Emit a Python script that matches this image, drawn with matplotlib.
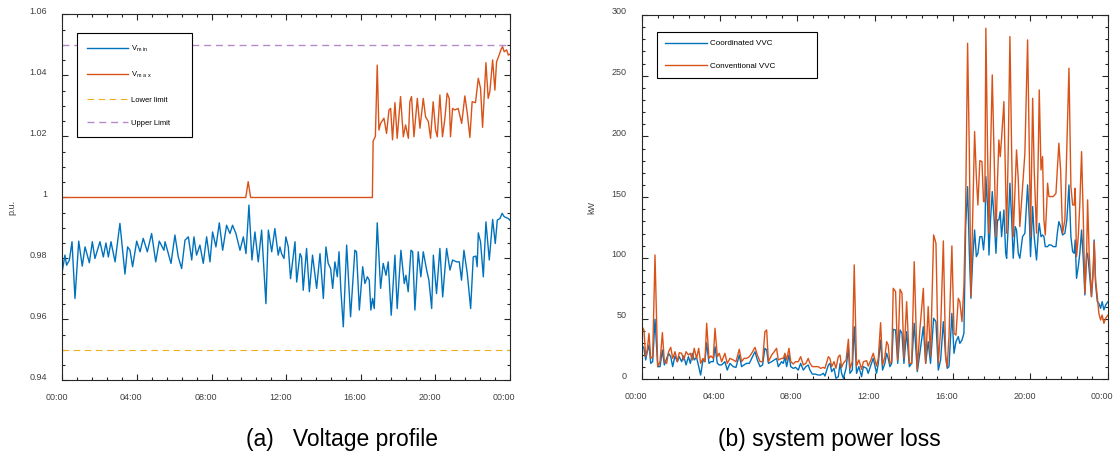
import matplotlib.pyplot as plt
from matplotlib.ticker import MultipleLocator
from matplotlib.transforms import ScaledTranslation

plt.rcParams['font.family'] = ['Liberation Sans', 'DejaVu Sans']

# time axis (hours of the day)
hour_ticks = [0, 4, 8, 12, 16, 20, 24]
hour_labels = ['00:00', '04:00', '08:00', '12:00', '16:00', '20:00', '00:00']

volt_ticks = [0.94, 0.96, 0.98, 1.0, 1.02, 1.04, 1.06]
volt_labels = ['0.94', '0.96', '0.98', '1', '1.02', '1.04', '1.06']
lower_limit = 0.95
upper_limit = 1.05

# (a) voltage profile
t_vmin = [0.0, 0.13, 0.22, 0.37, 0.51, 0.67, 0.87, 1.06, 1.21, 1.44,
          1.60, 1.74, 2.01, 2.19, 2.33, 2.46, 2.60, 2.82, 3.08, 3.35,
          3.49, 3.62, 3.76, 3.98, 4.16, 4.33, 4.55, 4.78, 5.00, 5.19,
          5.44, 5.50, 5.82, 6.03, 6.21, 6.39, 6.57, 6.75, 6.93, 7.05,
          7.19, 7.37, 7.55, 7.73, 7.91, 8.05, 8.23, 8.41, 8.59, 8.80,
          8.98, 9.12, 9.30, 9.52, 9.70, 9.84, 10.00, 10.16, 10.32, 10.50,
          10.68, 10.91, 11.04, 11.22, 11.39, 11.57, 11.66, 11.75, 11.88, 11.98,
          12.11, 12.23, 12.47, 12.56, 12.74, 12.82, 12.91, 13.09, 13.24, 13.41,
          13.63, 13.81, 13.99, 14.13, 14.25, 14.38, 14.49, 14.61, 14.74, 14.83,
          14.93, 15.06, 15.24, 15.45, 15.68, 15.77, 15.92, 16.10, 16.22, 16.35,
          16.45, 16.54, 16.63, 16.72, 16.88, 17.06, 17.20, 17.35, 17.47, 17.63,
          17.83, 17.95, 18.15, 18.33, 18.42, 18.54, 18.69, 18.78, 18.90, 19.08,
          19.22, 19.35, 19.53, 19.65, 19.80, 19.89, 20.06, 20.24, 20.39, 20.60,
          20.78, 20.92, 21.14, 21.28, 21.40, 21.53, 21.71, 21.89, 22.03, 22.17,
          22.24, 22.30, 22.42, 22.57, 22.71, 22.89, 23.07, 23.21, 23.32, 23.46,
          23.58, 23.69, 23.91, 24.0]
vmin = [0.9762, 0.9811, 0.9778, 0.9795, 0.9855, 0.9669, 0.9857, 0.9775, 0.9838, 0.9786,
        0.9855, 0.9800, 0.9855, 0.9805, 0.9851, 0.9805, 0.9855, 0.9789, 0.9915, 0.9749,
        0.9838, 0.9827, 0.9773, 0.9857, 0.9822, 0.9866, 0.9822, 0.9882, 0.9789, 0.9857,
        0.9827, 0.9855, 0.9784, 0.9877, 0.9805, 0.9767, 0.9860, 0.9871, 0.9795, 0.9871,
        0.9811, 0.9844, 0.9784, 0.9871, 0.9789, 0.9887, 0.9838, 0.9917, 0.9827, 0.9909,
        0.9882, 0.9909, 0.9882, 0.9827, 0.9871, 0.9816, 0.9975, 0.9795, 0.9887, 0.9789,
        0.9893, 0.9652, 0.9893, 0.9822, 0.9898, 0.9811, 0.9838, 0.9816, 0.9800, 0.9871,
        0.9838, 0.9734, 0.9855, 0.9723, 0.9816, 0.9805, 0.9696, 0.9833, 0.9691, 0.9811,
        0.9702, 0.9816, 0.9669, 0.9838, 0.9784, 0.9767, 0.9702, 0.9789, 0.9740, 0.9822,
        0.9696, 0.9576, 0.9844, 0.9609, 0.9827, 0.9822, 0.9631, 0.9773, 0.9718, 0.9740,
        0.9729, 0.9631, 0.9669, 0.9636, 0.9917, 0.9702, 0.9784, 0.9745, 0.9789, 0.9614,
        0.9811, 0.9636, 0.9827, 0.9718, 0.9745, 0.9691, 0.9827, 0.9822, 0.9631, 0.9822,
        0.9740, 0.9822, 0.9762, 0.9729, 0.9636, 0.9811, 0.9685, 0.9833, 0.9674, 0.9833,
        0.9762, 0.9795, 0.9789, 0.9789, 0.9729, 0.9827, 0.9751, 0.9636, 0.9805, 0.9808,
        0.9773, 0.9884, 0.9855, 0.9740, 0.9920, 0.9795, 0.9928, 0.9849, 0.9926, 0.9931,
        0.9948, 0.9937, 0.9931, 0.9925]

t_vmax = [0.0, 9.83, 9.96, 10.09, 16.62, 16.66, 16.78, 16.88, 16.97, 17.06,
          17.24, 17.38, 17.51, 17.60, 17.70, 17.83, 17.95, 18.13, 18.28, 18.40,
          18.55, 18.63, 18.72, 18.85, 19.03, 19.17, 19.35, 19.47, 19.62, 19.74,
          19.88, 20.01, 20.10, 20.24, 20.38, 20.51, 20.63, 20.74, 20.81, 20.92,
          21.04, 21.22, 21.41, 21.58, 21.71, 21.85, 21.97, 22.15, 22.30, 22.42,
          22.53, 22.71, 22.83, 22.92, 23.07, 23.19, 23.28, 23.42, 23.51, 23.60,
          23.69, 23.82, 23.91, 24.0]
vmax = [1.0, 1.0, 1.0052, 1.0, 1.0, 1.0185, 1.0200, 1.0434, 1.0221, 1.0243,
        1.0260, 1.0210, 1.0287, 1.0292, 1.0189, 1.0311, 1.0194, 1.0331, 1.0199, 1.0238,
        1.0194, 1.0314, 1.0331, 1.0199, 1.0325, 1.0227, 1.0325, 1.0265, 1.0249, 1.0194,
        1.0314, 1.0221, 1.0199, 1.0336, 1.0199, 1.0260, 1.0342, 1.0325, 1.0199, 1.0292,
        1.0287, 1.0292, 1.0243, 1.0333, 1.0276, 1.0197, 1.0314, 1.0311, 1.0391, 1.0358,
        1.0230, 1.0442, 1.0325, 1.0347, 1.0451, 1.0352, 1.0445, 1.0467, 1.0484, 1.0495,
        1.0478, 1.0484, 1.0467, 1.0470]

# (b) system power loss, kW
t_loss = [0.00, 0.10, 0.19, 0.27, 0.36, 0.45, 0.55, 0.67, 0.81, 0.93,
          1.05, 1.15, 1.27, 1.37, 1.48, 1.58, 1.70, 1.82, 1.92, 2.04,
          2.15, 2.27, 2.39, 2.49, 2.59, 2.69, 2.81, 2.92, 3.02, 3.14,
          3.24, 3.33, 3.45, 3.55, 3.67, 3.76, 3.88, 3.98, 4.10, 4.27,
          4.39, 4.53, 4.70, 4.84, 5.01, 5.13, 5.25, 5.39, 5.53, 5.65,
          5.82, 5.94, 6.08, 6.21, 6.33, 6.42, 6.51, 6.68, 6.81, 6.93,
          7.02, 7.19, 7.28, 7.36, 7.45, 7.57, 7.66, 7.79, 7.91, 8.05,
          8.17, 8.31, 8.44, 8.56, 8.65, 8.77, 8.91, 9.08, 9.20, 9.34,
          9.42, 9.60, 9.68, 9.77, 9.89, 9.99, 10.11, 10.20, 10.28, 10.37,
          10.51, 10.63, 10.71, 10.83, 10.93, 11.05, 11.17, 11.31, 11.40, 11.57,
          11.65, 11.79, 11.91, 12.08, 12.17, 12.29, 12.39, 12.51, 12.60, 12.68,
          12.77, 12.86, 12.94, 13.06, 13.17, 13.29, 13.39, 13.49, 13.63, 13.77,
          13.89, 14.02, 14.18, 14.31, 14.49, 14.61, 14.74, 14.86, 15.02, 15.14,
          15.26, 15.38, 15.52,
          15.64, 15.72, 15.81, 15.96, 16.07, 16.17, 16.29, 16.37, 16.48, 16.58,
          16.67, 16.77, 16.86, 16.94, 17.03, 17.13, 17.22, 17.30, 17.40, 17.51,
          17.59, 17.66, 17.71, 17.80, 17.87, 17.95, 18.04, 18.14, 18.23, 18.31,
          18.38, 18.45, 18.52, 18.64, 18.73, 18.78, 18.86, 18.95, 19.04, 19.12,
          19.22, 19.29, 19.38, 19.46, 19.60, 19.72, 19.86, 19.95, 20.01, 20.12,
          20.20, 20.32, 20.41, 20.46, 20.55, 20.63, 20.70, 20.77, 20.84, 20.89,
          20.96, 21.06, 21.18, 21.32, 21.39, 21.47, 21.56, 21.66, 21.78, 21.88,
          21.99, 22.09, 22.18, 22.26, 22.31, 22.38, 22.47, 22.55, 22.64, 22.73,
          22.81, 22.90, 22.95, 23.03, 23.15, 23.24, 23.29, 23.36, 23.45, 23.53,
          23.62, 23.70, 23.79, 23.88, 24.0]
loss_coordinated = [28.3, 25.6, 16.0, 22.8, 28.3, 13.2, 14.6, 49.5, 10.5, 10.5,
                    24.2, 11.9, 17.3, 21.5, 18.7, 10.5, 19.3, 14.6, 18.7, 14.6,
                    19.3, 11.9, 18.7, 13.2, 21.5, 16.0, 18.2, 10.5, 3.6, 16.0,
                    14.6, 30.2, 13.2, 14.6, 14.6, 26.9, 13.2, 11.9, 11.9, 14.6,
                    7.7, 13.2, 10.5, 9.9, 20.1, 10.5, 11.9, 13.2, 13.2, 17.3,
                    22.8, 16.0, 10.5, 11.9, 25.6, 24.2, 13.2, 14.6, 16.0, 17.3,
                    10.5, 14.6, 13.2, 18.7, 10.5, 20.1, 10.5, 9.1, 9.9, 7.7,
                    13.2, 7.7, 10.5, 11.9, 7.7, 4.4, 4.4, 3.6, 3.6, 5.0,
                    2.8, 11.9, 13.2, 6.4, 9.1, 0.9, 2.2, 13.2, 5.0, 0.9,
                    9.1, 25.6, 5.0, 7.7, 43.4, 5.0, 10.5, 2.2, 10.5, 9.1,
                    5.0, 11.9, 17.3, 5.0, 13.2, 32.5, 7.7, 13.2, 21.5, 17.3,
                    10.5, 13.2, 41.2, 40.7, 13.2, 40.7, 37.9, 13.2, 39.3, 10.5,
                    13.2, 46.2, 6.4, 21.5, 43.4, 13.2, 31.1, 13.2, 50.3, 47.5,
                    7.7, 16.0, 47.5,
                    18.7, 9.1, 10.5, 54.4, 21.5, 31.1, 35.2, 29.7, 32.4, 37.9,
                    125.8, 158.7, 103.8, 66.8, 98.3, 123.0, 101.1, 103.8, 117.5, 117.5,
                    106.6, 120.3, 166.9, 142.3, 102.4, 131.3, 154.6, 131.3, 103.8, 131.3,
                    131.3, 138.1, 117.5, 139.5, 103.8, 99.7, 125.8, 161.5, 131.3, 99.7,
                    125.8, 123.0, 103.8, 99.7, 117.5, 120.3, 160.1, 131.3, 101.1, 142.3,
                    117.5, 98.3, 120.3, 128.5, 117.5, 118.9, 117.5, 109.3, 109.3, 109.3,
                    110.7, 110.7, 109.3, 109.3, 120.3, 129.9, 125.8, 118.9, 120.3, 131.3,
                    160.1, 117.5, 105.2, 103.8, 114.8, 83.2, 92.8, 103.8, 123.0, 98.3,
                    69.5, 103.8, 103.8, 90.1, 68.1, 90.1, 114.8, 79.1, 64.0, 62.6,
                    58.5, 64.0, 57.2, 61.3, 64.0]
loss_conventional = [43.4, 40.7, 18.7, 24.2, 37.9, 17.3, 18.7, 102.4, 10.5, 14.6,
                     38.5, 14.6, 13.2, 22.8, 26.4, 17.3, 22.8, 14.6, 22.0, 21.5,
                     16.0, 22.8, 20.1, 21.5, 16.0, 25.6, 17.3, 25.6, 13.2, 17.3,
                     14.6, 46.2, 17.3, 19.3, 17.3, 42.1, 18.7, 21.5, 14.6, 21.5,
                     13.2, 17.3, 16.0, 14.6, 24.8, 14.6, 17.3, 17.3, 18.7, 21.5,
                     26.4, 20.1, 14.6, 14.6, 39.3, 40.7, 14.6, 20.1, 22.8, 25.6,
                     16.0, 17.3, 17.3, 21.5, 16.0, 25.6, 14.6, 12.7, 14.6, 14.6,
                     18.7, 11.9, 13.2, 17.3, 13.2, 10.5, 10.5, 10.5, 9.1, 9.9,
                     9.1, 18.7, 17.3, 10.5, 14.6, 9.1, 18.7, 20.1, 9.9, 13.2,
                     16.0, 33.0, 9.1, 14.6, 94.3, 11.0, 16.0, 8.3, 14.6, 15.4,
                     11.0, 16.0, 21.5, 11.0, 17.3, 46.7, 11.9, 18.7, 31.1, 28.3,
                     13.2, 14.6, 75.0, 72.3, 16.0, 74.2, 70.9, 17.3, 64.0, 13.2,
                     13.2, 96.9, 7.7, 40.7, 75.0, 13.2, 59.9, 18.7, 118.9, 112.1,
                     13.2, 40.7, 114.0,
                     18.7, 10.5, 35.2, 109.9, 37.9, 36.5, 66.8, 64.0, 47.6, 76.4,
                     142.3, 276.7, 186.1, 68.1, 131.3, 204.0, 166.9, 143.6, 180.1, 179.3,
                     146.4, 146.4, 289.1, 186.1, 120.3, 186.1, 250.7, 180.6, 117.5, 164.2,
                     197.1, 183.4, 198.5, 228.7, 158.7, 120.3, 186.1, 282.2, 186.1, 117.5,
                     158.7, 188.9, 164.2, 125.8, 158.7, 186.1, 279.5, 186.1, 117.5, 231.4,
                     172.4, 120.3, 186.1, 238.3, 172.4, 183.4, 131.3, 118.9, 142.3, 161.5,
                     150.5, 150.5, 150.5, 153.2, 172.4, 194.4, 172.4, 120.3, 131.3, 191.6,
                     256.2, 158.7, 143.6, 143.6, 157.4, 101.1, 117.5, 145.0, 187.5, 131.3,
                     70.9, 103.8, 147.8, 103.8, 68.1, 90.1, 113.4, 81.9, 68.1, 54.4,
                     48.9, 53.0, 46.2, 50.3, 53.0]

BLUE = '#0072BD'
ORANGE = '#D95319'
YELLOW = '#EDB120'
PURPLE = '#B58ACB'

fig = plt.figure(figsize=(11.14, 4.57), dpi=100)
ax1 = fig.add_axes([0.0561, 0.1674, 0.4017, 0.8009])
ax2 = fig.add_axes([0.5763, 0.1698, 0.4183, 0.7974])


def style_axes(ax):
    ax.set_xlim(0, 24)
    ax.set_xticks(hour_ticks)
    ax.set_xticklabels(hour_labels)
    ax.xaxis.set_minor_locator(MultipleLocator(0.8))
    ax.tick_params(which='both', direction='in', top=True, right=True,
                   color='#262626', labelcolor='#404040', labelsize=6.5, width=0.8)
    ax.tick_params(which='major', length=4)
    ax.tick_params(which='minor', length=2.5)
    ax.tick_params(axis='x', pad=9)
    ax.tick_params(axis='y', pad=11)
    for s in ax.spines.values():
        s.set_color('#262626')
        s.set_linewidth(0.8)
    shift_x = ScaledTranslation(-6 / 100, 0, fig.dpi_scale_trans)
    shift_y = ScaledTranslation(0, 4 / 100, fig.dpi_scale_trans)
    for lab in ax.get_xticklabels():
        lab.set_transform(lab.get_transform() + shift_x)
    for lab in ax.get_yticklabels():
        lab.set_transform(lab.get_transform() + shift_y)


# left: voltage profile
ax1.plot(t_vmin, vmin, color=BLUE, lw=1.0, label='V$_{\\mathregular{m\\ in}}$')
ax1.plot(t_vmax, vmax, color=ORANGE, lw=1.0, label='V$_{\\mathregular{m\\ a\\ x}}$')
ax1.axhline(lower_limit, color=YELLOW, lw=0.8, dashes=(6, 4), label='Lower limit')
ax1.axhline(upper_limit, color=PURPLE, lw=1.0, dashes=(5, 3.5), label='Upper Limit')
ax1.set_ylim(0.94, 1.06)
ax1.set_yticks(volt_ticks)
ax1.set_yticklabels(volt_labels)
ax1.yaxis.set_minor_locator(MultipleLocator(0.005))
style_axes(ax1)
leg1 = ax1.legend(loc='upper left', bbox_to_anchor=(0.0317, 0.9486, 0.2570, 0),
                  mode='expand', borderaxespad=0, fontsize=5.5, handlelength=5.4,
                  handletextpad=0.4, labelspacing=2.1, borderpad=1.3,
                  fancybox=False, framealpha=1, edgecolor='black')
leg1.get_frame().set_linewidth(0.8)

# right: system power loss
ax2.plot(t_loss, loss_coordinated, color=BLUE, lw=1.0, label='Coordinated VVC')
ax2.plot(t_loss, loss_conventional, color=ORANGE, lw=1.0, label='Conventional VVC')
ax2.set_ylim(0, 300)
ax2.set_yticks([0, 50, 100, 150, 200, 250, 300])
ax2.yaxis.set_minor_locator(MultipleLocator(10))
style_axes(ax2)
leg2 = ax2.legend(loc='upper left', bbox_to_anchor=(0.0315, 0.954, 0.343, 0),
                  mode='expand', borderaxespad=0, fontsize=5.8, handlelength=5.2,
                  handletextpad=0.45, labelspacing=1.8, borderpad=1.0,
                  fancybox=False, framealpha=1, edgecolor='black')
leg2.get_frame().set_linewidth(0.8)

fig.text(12 / 1114, 1 - 207 / 457, 'p.u.', rotation=90, fontsize=6.5,
         color='#404040', ha='center', va='center')
fig.text(592 / 1114, 1 - 207 / 457, 'kW', rotation=90, fontsize=6.5,
         color='#404040', ha='center', va='center')

fig.text(246 / 1114, 0.038, '(a)   Voltage profile', fontsize=16.5,
         ha='left', va='center')
fig.text(718 / 1114, 0.038, '(b) system power loss', fontsize=16.5,
         ha='left', va='center')

fig.savefig('out.png', dpi=100)
